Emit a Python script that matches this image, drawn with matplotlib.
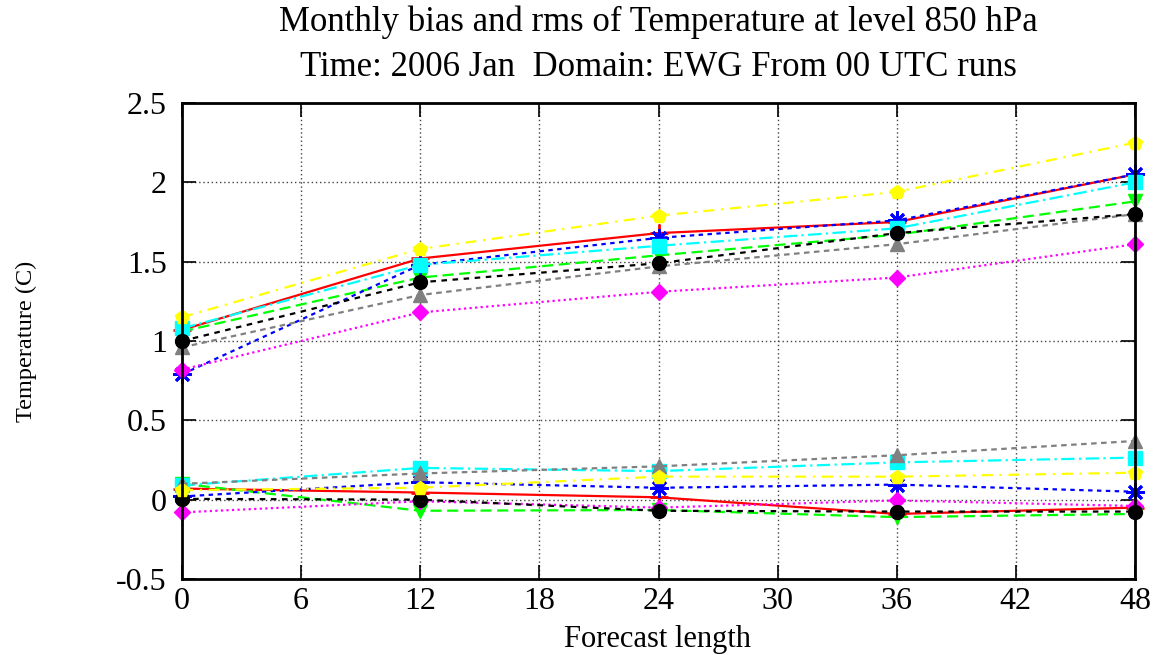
import numpy as np
import matplotlib
matplotlib.use('Agg')
import matplotlib.pyplot as plt

plt.rcParams['font.family'] = ['Liberation Serif', 'DejaVu Serif']
plt.rcParams['axes.unicode_minus'] = False

lead = [0, 12, 24, 36, 48]

# rms curves (upper group)
rms_red = [1.07, 1.52, 1.68, 1.75, 2.05]
rms_green = [1.06, 1.40, 1.54, 1.67, 1.88]
rms_blue = [0.79, 1.48, 1.65, 1.76, 2.05]
rms_magenta = [0.82, 1.18, 1.31, 1.40, 1.61]
rms_cyan = [1.08, 1.48, 1.60, 1.71, 2.00]
rms_gray = [0.96, 1.29, 1.47, 1.61, 1.80]
rms_black = [1.00, 1.37, 1.49, 1.68, 1.80]
rms_yellow = [1.15, 1.58, 1.79, 1.94, 2.25]

# bias curves (lower group)
bias_red = [0.07, 0.045, 0.015, -0.09, -0.05]
bias_green = [0.10, -0.07, -0.065, -0.11, -0.09]
bias_blue = [0.02, 0.11, 0.075, 0.095, 0.05]
bias_magenta = [-0.08, -0.01, -0.05, -0.005, -0.04]
bias_cyan = [0.09, 0.20, 0.18, 0.235, 0.265]
bias_gray = [0.10, 0.165, 0.21, 0.28, 0.37]
bias_black = [0.005, 0.0, -0.07, -0.075, -0.075]
bias_yellow = [0.06, 0.075, 0.145, 0.145, 0.17]

xticks = [0, 6, 12, 18, 24, 30, 36, 42, 48]
yticks = [-0.5, 0, 0.5, 1, 1.5, 2, 2.5]

# colour, dash pattern, marker for each experiment
styles = [
    ('#ff0000', '-', '+'),
    ('#00ff00', (0, (5, 2.5)), 'v'),
    ('#0000ff', (0, (2, 2)), (8, 2, 0)),
    ('#ff00ff', (0, (1, 1.5)), 'D'),
    ('#00ffff', (0, (6, 2, 1, 2)), 's'),
    ('#808080', (0, (2.5, 2)), '^'),
    ('#000000', (0, (2.5, 2.5)), 'o'),
    ('#ffff00', (0, (5, 3, 1, 3)), 'p'),
]
rms_all = [rms_red, rms_green, rms_blue, rms_magenta, rms_cyan, rms_gray, rms_black, rms_yellow]
bias_all = [bias_red, bias_green, bias_blue, bias_magenta, bias_cyan, bias_gray, bias_black, bias_yellow]

fig = plt.figure(figsize=(11.59, 6.55), dpi=100)
ax = fig.add_axes([182/1159, 1-579/655, (1135-182)/1159, (579-103)/655])

for (col, ls, mk), r, b in zip(styles, rms_all, bias_all):
    ms = 10
    if mk in ('+', (8, 2, 0)):
        ms = 13
    if mk == 'D':
        ms = 8
    mew = 2 if mk in ('+', (8, 2, 0)) else 1
    for vals in (r, b):
        ax.plot(lead, vals, color=col, linestyle=ls, linewidth=1.6,
                marker=mk, markersize=ms, markeredgewidth=mew,
                markeredgecolor=col, markerfacecolor=col, clip_on=False)

ax.set_xlim(0, 48)
ax.set_ylim(-0.5, 2.5)
ax.set_xticks(xticks)
ax.set_yticks(yticks)
ax.set_yticklabels(['%g' % v for v in yticks])
ax.grid(True, color='#444444', linestyle=(0, (1, 2)), linewidth=1.0)
ax.tick_params(direction='in', length=10, width=1.2, top=True, right=True,
               labelsize=23)
ax.tick_params(axis='x', pad=6)
ax.tick_params(axis='y', pad=11)
for s in ax.spines.values():
    s.set_linewidth(2)

fig.text(658/1159, 1-640/655, 'Forecast length', ha='center', va='center', fontsize=22)
fig.text(26/1159, 1-341/655, 'Temperature (C)', ha='center', va='center',
         rotation=90, fontsize=17.5)

fig.text(658/1159, 1-22/655, 'Monthly bias and rms of Temperature at level 850 hPa',
         ha='center', va='center', fontsize=25)
fig.text(658/1159, 1-68/655, 'Time: 2006 Jan  Domain: EWG From 00 UTC runs',
         ha='center', va='center', fontsize=25)

plt.savefig('out.png', dpi=100)
